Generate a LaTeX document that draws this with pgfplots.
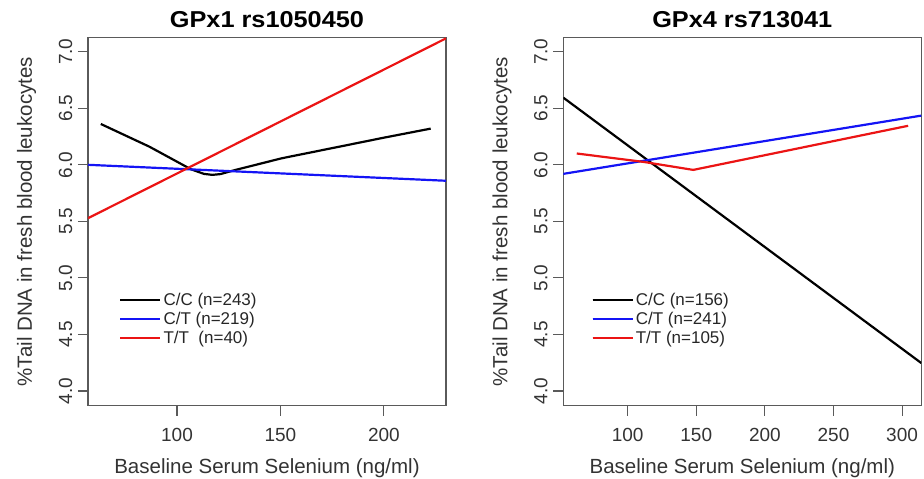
\documentclass[border=0pt]{standalone}
\usepackage{fontspec}
\setmainfont{Liberation Sans}
\newfontfamily\titlefont[FakeStretch=1.1]{Liberation Sans}
\usepackage{pgfplots}
\pgfplotsset{compat=1.18}

\definecolor{rred}{RGB}{235,20,20}
\definecolor{rblue}{RGB}{20,20,245}
\definecolor{frame}{RGB}{90,90,90}

\pgfplotsset{
  rpanel/.style={
    scale only axis, width=358pt, height=368pt,
    ymin=3.87, ymax=7.124,
    ytick={4,4.5,5,5.5,6,6.5,7},
    axis line style={frame, line width=1.1pt},
    tick style={frame, line width=1.1pt},
    tick align=outside, major tick length=10pt,
    xtick pos=left, ytick pos=left,
    /pgf/number format/assume math mode=true,
    yticklabel style={/pgf/number format/fixed, /pgf/number format/fixed zerofill,
      /pgf/number format/precision=1, rotate=90, anchor=south, inner sep=5.5pt,
      font=\fontsize{19}{22}\selectfont, text=black!80},
    xticklabel style={yshift=-9pt, font=\fontsize{19}{22}\selectfont, text=black!80},
    title style={at={(0.5,1)}, anchor=base, yshift=4.5pt, font=\fontsize{23}{28}\titlefont\bfseries},
    every axis x label/.style={at={(0.5,0)}, anchor=base, yshift=-68pt,
      font=\fontsize{20.5}{24}\selectfont, text=black!80},
    every axis y label/.style={at={(0,0.5)}, xshift=-56pt, rotate=90, anchor=base,
      font=\fontsize{20.5}{24}\selectfont, text=black!80},
    xlabel={Baseline Serum Selenium (ng/ml)},
    ylabel={\%Tail DNA in fresh blood leukocytes},
    legend style={draw=none, fill=none, anchor=north west, font=\fontsize{17}{19}\selectfont,
      row sep=1.2pt, text=black!85},
    legend cell align=left,
    legend image code/.code={\path (0pt,0pt) -- (40pt,0pt);
      \draw[#1, line width=2.2pt] (0pt,0pt) -- (31pt,0pt);},
    every axis plot/.append style={line width=2.2pt},
  }
}

\begin{document}
\begin{tikzpicture}
\useasboundingbox (0,0) rectangle (924pt,479pt);

\begin{axis}[rpanel, at={(88pt,73.3pt)}, anchor=south west,
  xmin=57, xmax=230, xtick={100,150,200},
  title={GPx1 rs1050450},
  legend style={at={(axis cs:70.6,4.906)}}]
\addplot[black] coordinates {
 (63.2,6.361) (86.7,6.16) (106.7,5.961) (113,5.92) (117.1,5.911) (121,5.918)
 (128.3,5.955) (150.7,6.058) (182.7,6.176) (200,6.24) (222.6,6.32)};
\addplot[rblue] coordinates {(57,6.0) (230,5.859)};
\addplot[rred] coordinates {(57,5.528) (230,7.118)};
\legend{C/C (n=243), C/T (n=219), T/T\ \ (n=40)}
\end{axis}

\begin{axis}[rpanel, at={(563.3pt,73.3pt)}, anchor=south west,
  xmin=53.1, xmax=314, xtick={100,150,200,250,300},
  title={GPx4 rs713041},
  legend style={at={(axis cs:71.4,4.906)}}]
\addplot[black] coordinates {(53.1,6.594) (314,4.247)};
\addplot[rblue] coordinates {(53.1,5.92) (314,6.435)};
\addplot[rred] coordinates {
 (62.9,6.10) (111.4,6.026) (147.8,5.955) (304.4,6.345)};
\legend{C/C (n=156), C/T (n=241), T/T (n=105)}
\end{axis}
\end{tikzpicture}
\end{document}
